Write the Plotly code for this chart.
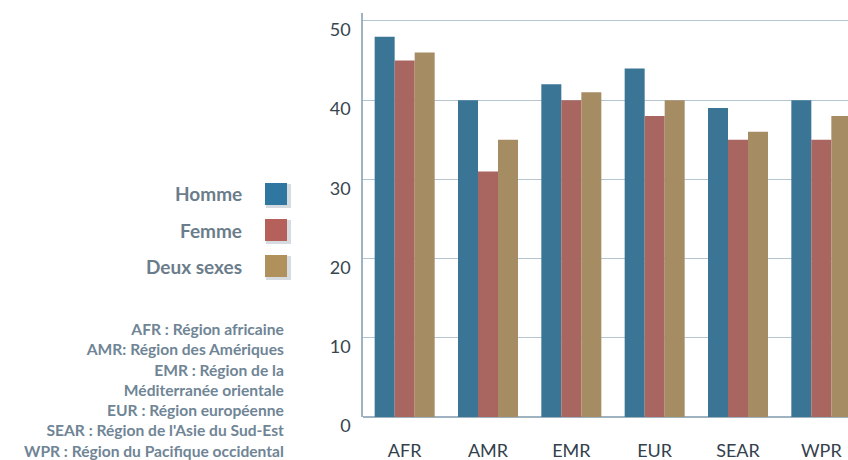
import plotly.graph_objects as go

# Regions (WHO) and values per sex
regions = ["AFR", "AMR", "EMR", "EUR", "SEAR", "WPR"]
homme = [48, 40, 42, 44, 39, 40]
femme = [45, 31, 40, 38, 35, 35]
deux_sexes = [46, 35, 41, 40, 36, 38]

series_names = ["Homme", "Femme", "Deux sexes"]
bar_colors = ["#3b7596", "#a9655f", "#a68c63"]
swatch_colors = ["#2f77a1", "#b6605b", "#b0915b"]

notes = [
    "AFR : Région africaine",
    "AMR: Région des Amériques",
    "EMR : Région de la",
    "Méditerranée orientale",
    "EUR : Région européenne",
    "SEAR : Région de l'Asie du Sud-Est",
    "WPR : Région du Pacifique occidental",
]

y_ticks = [0, 10, 20, 30, 40, 50]

W, H = 848, 460
L, R, T, B = 363, 0, 13, 43
PW, PH = W - L - R, H - T - B


def px_x(px):
    return (px - L) / PW


def px_y(py):
    return 1 - (py - T) / PH


fig = go.Figure()
for name, vals, col in zip(series_names, [homme, femme, deux_sexes], bar_colors):
    fig.add_trace(go.Bar(x=regions, y=vals, name=name, marker_color=col,
                         marker_line_width=0, showlegend=False))

grid_col = "#b4c5d0"
fig.update_layout(
    width=W, height=H,
    margin=dict(l=L, r=R, t=T, b=B, pad=0),
    paper_bgcolor="white", plot_bgcolor="white",
    barmode="group", bargap=0.28, bargroupgap=0,
    font=dict(family="Lato", color="#37454f"),
    xaxis=dict(range=[-0.5, 5.32], showgrid=False, showline=False,
               ticks="", tickfont=dict(size=18, color="#33414c"),
               ticklabelstandoff=21, fixedrange=True),
    yaxis=dict(range=[0, 51], tickvals=y_ticks, showgrid=True,
               gridcolor=grid_col, gridwidth=1.4,
               showline=True, linecolor="#9fb2bf", linewidth=1.5,
               zeroline=True, zerolinecolor="#9fb2bf", zerolinewidth=1.5,
               ticks="", tickfont=dict(size=18, color="#37454f"),
               ticklabelstandoff=7, ticklabelshift=9, fixedrange=True),
)

# Custom legend on the left: label then swatch with a soft shadow
legend_y = [194, 230, 266]
for name, col, cy in zip(series_names, swatch_colors, legend_y):
    fig.add_shape(type="rect", xref="paper", yref="paper",
                  x0=px_x(266), x1=px_x(291), y0=px_y(cy + 14), y1=px_y(cy - 10),
                  fillcolor="rgba(120,135,150,0.3)", line_width=0, layer="above")
    fig.add_shape(type="rect", xref="paper", yref="paper",
                  x0=px_x(265), x1=px_x(287), y0=px_y(cy + 11), y1=px_y(cy - 11),
                  fillcolor=col, line_width=0, layer="above")
    fig.add_annotation(text=f"<b>{name}</b>", xref="paper", yref="paper",
                       x=px_x(244), y=px_y(cy), xanchor="right", yanchor="middle",
                       showarrow=False, font=dict(size=19, color="#6b7d8b", family="Lato"))

# Region abbreviations, one right-aligned block
fig.add_annotation(text="<br>".join(f"<b>{t}</b>" for t in notes),
                   xref="paper", yref="paper", align="right",
                   x=px_x(286), y=px_y(318), xanchor="right", yanchor="top",
                   showarrow=False, font=dict(size=15.6, color="#6f8596", family="Lato"))

fig.write_html("out.html")
